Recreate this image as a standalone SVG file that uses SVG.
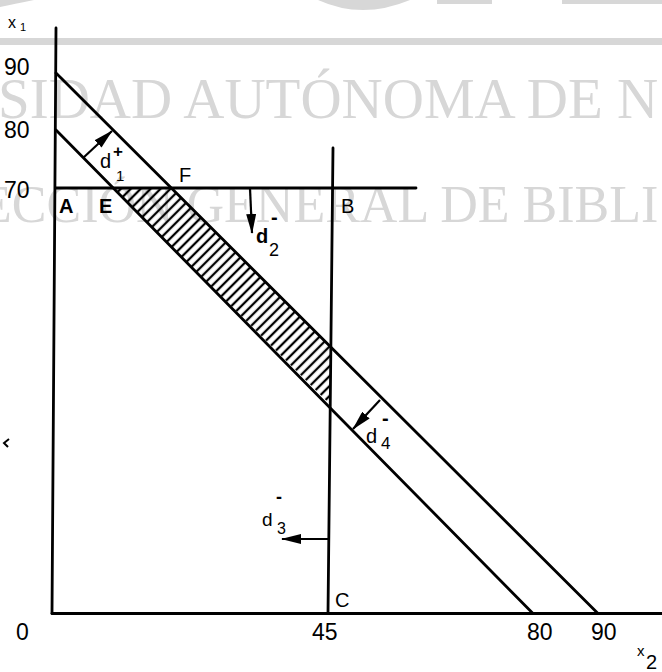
<svg xmlns="http://www.w3.org/2000/svg" width="662" height="672" viewBox="0 0 662 672">
<style>
.wm{fill:#d7d7d7;font-family:"Liberation Serif","Times New Roman",serif}
.ln{stroke:#000;stroke-width:2.8;fill:none;stroke-linecap:round}
.ar{stroke:#000;stroke-width:2.2;fill:none}
.t{font-family:"Liberation Sans",Arial,sans-serif;fill:#000}
</style>
<defs>
<pattern id="hatch" patternUnits="userSpaceOnUse" width="7" height="10" patternTransform="rotate(45)">
<line x1="2" y1="0" x2="2" y2="10" stroke="#000" stroke-width="2.3"/>
</pattern>
<marker id="ah" markerUnits="userSpaceOnUse" markerWidth="20" markerHeight="10" refX="19" refY="5" orient="auto">
<path d="M0,0 L20,5 L0,10 Z" fill="#000"/>
</marker>
</defs>
<rect width="662" height="672" fill="#fff"/>
<g id="watermark">
<path d="M0,7 Q14,4 34,0 L0,0 Z" fill="#d7d7d7"/>
<path d="M318,0 Q362,20 410,0 Z" fill="#d7d7d7"/>
<rect x="437" y="0" width="55" height="4" fill="#d7d7d7"/>
<rect x="562" y="0" width="100" height="4" fill="#d7d7d7"/>
<rect x="0" y="38" width="662" height="7" fill="#d7d7d7"/>
<text class="wm" x="-2" y="118" font-size="57">SIDAD AUTÓNOMA DE N</text>
<text class="wm" x="-20" y="222" font-size="52">ECCIÓN GENERAL DE BIBLI</text>
</g>
<g id="region">
<polygon points="113,188 171,188 330.5,346 329.7,404" fill="url(#hatch)"/>
</g>
<g id="axes">
<line class="ln" x1="56" y1="28" x2="52" y2="613.5"/>
<line class="ln" x1="52" y1="613.5" x2="662" y2="613.5"/>
</g>
<g id="constraints">
<line class="ln" x1="56" y1="73" x2="598" y2="613.5"/>
<line class="ln" x1="56" y1="130" x2="533" y2="613.5"/>
<line class="ln" x1="56" y1="188" x2="416" y2="188"/>
<line class="ln" x1="333" y1="148" x2="328" y2="613.5"/>
</g>
<g id="connectors">
<line class="ar" x1="83" y1="158" x2="112" y2="131" marker-end="url(#ah)"/>
<line class="ar" x1="250" y1="188" x2="252" y2="233" marker-end="url(#ah)"/>
<line class="ar" x1="329" y1="539" x2="282" y2="539" marker-end="url(#ah)"/>
<line class="ar" x1="380" y1="400" x2="353" y2="429" marker-end="url(#ah)"/>
</g>
<g id="axis-labels">
<text class="t" x="8" y="28" font-size="16">x</text>
<text class="t" x="20" y="31" font-size="11">1</text>
<text class="t" x="637" y="656" font-size="15">x</text>
<text class="t" x="646" y="669" font-size="20">2</text>
<text class="t" x="4" y="75" font-size="23">90</text>
<text class="t" x="4" y="138" font-size="23">80</text>
<text class="t" x="4" y="198" font-size="23">70</text>
<text class="t" x="16" y="640" font-size="23">0</text>
<text class="t" x="312" y="640" font-size="23">45</text>
<text class="t" x="527" y="640" font-size="23">80</text>
<text class="t" x="591" y="640" font-size="23">90</text>
<path d="M9,439 L4,443 L8,447" stroke="#000" stroke-width="2" fill="none"/>
</g>
<g id="points">
<text class="t" x="59" y="213" font-size="20" font-weight="bold">A</text>
<text class="t" x="99" y="213" font-size="20" font-weight="bold">E</text>
<text class="t" x="179" y="182" font-size="20">F</text>
<text class="t" x="341" y="213" font-size="20">B</text>
<text class="t" x="335" y="607" font-size="20">C</text>
</g>
<g id="deviation-labels">
<text class="t" x="100" y="168" font-size="20">d</text>
<text class="t" x="113" y="157" font-size="17" font-weight="bold">+</text>
<text class="t" x="116" y="181" font-size="15">1</text>
<text class="t" x="256" y="243" font-size="20" font-weight="bold">d</text>
<text class="t" x="271" y="224" font-size="20" font-weight="bold">-</text>
<text class="t" x="269" y="256" font-size="18">2</text>
<text class="t" x="262" y="526" font-size="19">d</text>
<text class="t" x="276" y="503" font-size="18" font-weight="bold">-</text>
<text class="t" x="277" y="534" font-size="16">3</text>
<text class="t" x="366" y="443" font-size="20">d</text>
<text class="t" x="382" y="425" font-size="20" font-weight="bold">-</text>
<text class="t" x="381" y="449" font-size="17">4</text>
</g>
</svg>
